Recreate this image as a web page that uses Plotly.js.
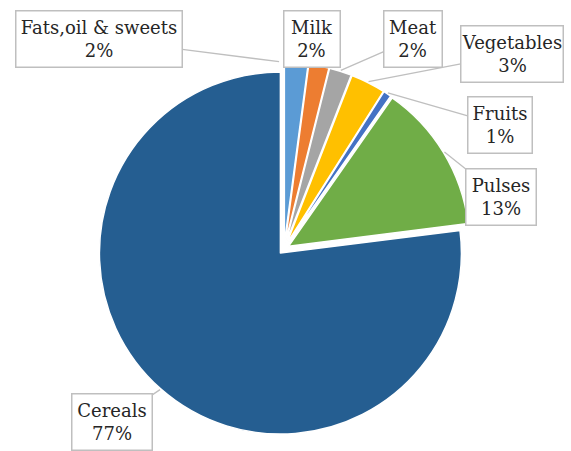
<!DOCTYPE html>
<html><head><meta charset="utf-8">
<script src="https://cdn.plot.ly/plotly-3.0.1.min.js"></script>
<style>html,body{margin:0;padding:0;background:#fff}</style>
</head><body><div id="chart" style="width:571px;height:451px"></div>
<script>
const categories = ["Fats,oil & sweets","Milk","Meat","Vegetables","Fruits","Pulses","Cereals"];
const shares = [2.1, 1.8, 2.0, 3.1, 0.7, 13.3, 77.0];
const colors = ["#5B9BD5","#ED7D31","#A5A5A5","#FFC000","#4472C4","#70AD47","#255E91"];

const W = 571, H = 451;
const cxPx = 284, cyPx = 249, R = 181, pull = 0.03;
const half = R * (1 + pull);
const domain = {
  x: [(cxPx - half) / W, (cxPx + half) / W],
  y: [(H - cyPx - half) / H, (H - cyPx + half) / H]
};

// label box centres (px) and sizes
const boxes = [
  {cx: 99, cy: 39, w: 168, h: 58, line: true, tip: -1.5},
  {cx: 312, cy: 39, w: 58, h: 58, line: false, tip: 0},
  {cx: 413, cy: 39, w: 60, h: 58, line: true, tip: 0},
  {cx: 512, cy: 54, w: 104, h: 58, line: true, tip: 0},
  {cx: 500, cy: 125, w: 66, h: 58, line: true, tip: 0},
  {cx: 501, cy: 197, w: 72, h: 58, line: true, tip: 0},
  {cx: 112, cy: 422, w: 82, h: 58, line: true, tip: 0}
];

const total = shares.reduce((a, b) => a + b, 0);
let acc = 0;
const annotations = categories.map((c, i) => {
  const b = boxes[i];
  let mid = (acc + shares[i] / 2) / total * 2 * Math.PI;
  if (b.tip) mid = b.tip * Math.PI / 180;
  acc += shares[i];
  const rr = R * (1 + pull) + 1;
  const tx = cxPx + rr * Math.sin(mid);
  const ty = cyPx - rr * Math.cos(mid);
  const pct = Math.round(shares[i] / total * 100);
  return {
    x: tx / W, y: (H - ty) / H, xref: 'paper', yref: 'paper',
    ax: b.cx - tx, ay: b.cy - ty, axref: 'pixel', ayref: 'pixel',
    text: c + '<br>' + pct + '%',
    showarrow: true, arrowhead: 0, arrowwidth: 1.3, standoff: 0,
    arrowcolor: b.line ? '#BFBFBF' : 'rgba(0,0,0,0)',
    bgcolor: '#FFFFFF', bordercolor: '#BFBFBF', borderwidth: 1.5, borderpad: 0,
    width: b.w - 3, height: b.h - 3,
    font: {family: 'DejaVu Serif', size: 18, color: '#262626'}
  };
});

const data = [{
  type: 'pie',
  labels: categories,
  values: shares,
  sort: false,
  direction: 'clockwise',
  rotation: 0,
  pull: shares.map(() => pull),
  marker: {colors: colors, line: {color: '#FFFFFF', width: 1.5}},
  textinfo: 'none',
  domain: domain,
  showlegend: false
}];

const layout = {
  width: W, height: H,
  margin: {l: 0, r: 0, t: 0, b: 0},
  paper_bgcolor: '#FFFFFF',
  showlegend: false,
  annotations: annotations
};

Plotly.newPlot('chart', data, layout, {displayModeBar: false, staticPlot: true});
</script>
</body></html>
